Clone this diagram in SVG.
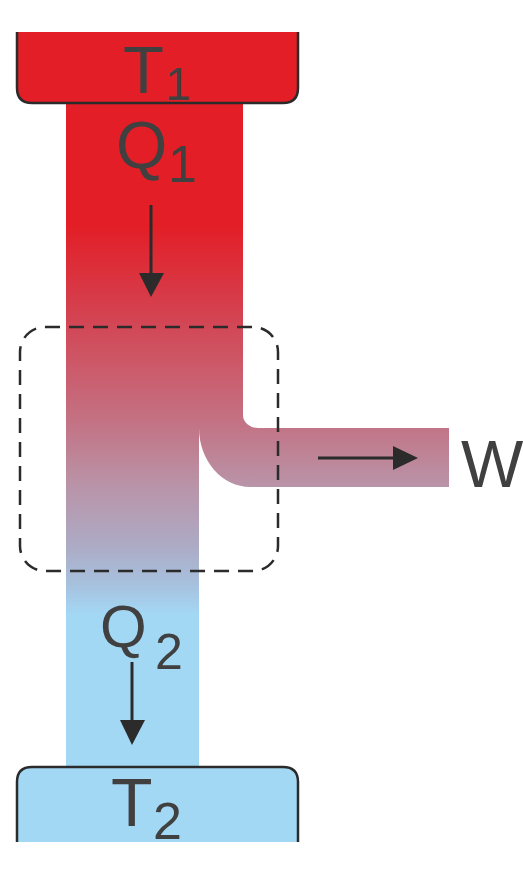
<svg xmlns="http://www.w3.org/2000/svg" width="523" height="872" viewBox="0 0 523 872">
<style>
.lbl{font-family:"Liberation Sans",Arial,sans-serif;fill:#404040}
.edge{fill:none;stroke:#2b2b2b;stroke-width:2.5}
.arr{stroke:#2b2b2b;stroke-width:3;fill:none}
.head{fill:#2b2b2b}
</style>
<defs>
<linearGradient id="flow" gradientUnits="userSpaceOnUse" x1="0" y1="225" x2="0" y2="615">
<stop offset="0" stop-color="#e31e26"/>
<stop offset="0.2" stop-color="#d63d4b"/>
<stop offset="0.52" stop-color="#c27587"/>
<stop offset="0.67" stop-color="#b994a8"/>
<stop offset="0.82" stop-color="#adaac4"/>
<stop offset="0.93" stop-color="#a6c3e0"/>
<stop offset="1" stop-color="#a3d8f5"/>
</linearGradient>
</defs>
<rect width="523" height="872" fill="#ffffff"/>
<g id="flow-band">
<path d="M66,103 H243 V415 A15,13 0 0 0 258,428 H449 V487 H250 A51,59 0 0 1 199,428 V767 H66 Z" fill="url(#flow)"/>
</g>
<g id="hot-reservoir">
<path d="M17,32 V88 Q17,103 32,103 H283 Q298,103 298,88 V32 Z" fill="#e31e26"/>
<path class="edge" d="M17,32 V88 Q17,103 32,103 H283 Q298,103 298,88 V32"/>
<text class="lbl" x="123" y="93" font-size="67">T</text>
<text class="lbl" x="165" y="100" font-size="46">1</text>
</g>
<g id="cold-reservoir">
<path d="M17,842 V782 Q17,767 32,767 H283 Q298,767 298,782 V842 Z" fill="#a3d8f5"/>
<path class="edge" d="M17,842 V782 Q17,767 32,767 H283 Q298,767 298,782 V842"/>
<text class="lbl" x="111" y="826" font-size="68">T</text>
<text class="lbl" x="153" y="839" font-size="52">2</text>
</g>
<g id="engine">
<rect x="20" y="327" width="258" height="244" rx="25" fill="none" stroke="#2b2b2b" stroke-width="2.5" stroke-dasharray="15 9"/>
</g>
<g id="labels">
<text class="lbl" x="116" y="168" font-size="66">Q</text>
<text class="lbl" x="168" y="182" font-size="52">1</text>
<text class="lbl" x="100" y="647" font-size="60">Q</text>
<text class="lbl" x="155" y="669" font-size="50">2</text>
<text class="lbl" x="461" y="487" font-size="66">W</text>
</g>
<g id="connectors">
<line class="arr" x1="151" y1="205" x2="151" y2="276"/>
<path class="head" d="M139,273 L164,273 L151,297 Z"/>
<line class="arr" x1="132" y1="662" x2="132" y2="722"/>
<path class="head" d="M120,720 L145,720 L132,745 Z"/>
<line class="arr" x1="318" y1="458" x2="396" y2="458"/>
<path class="head" d="M393,446 L393,470 L418,458 Z"/>
</g>
</svg>
